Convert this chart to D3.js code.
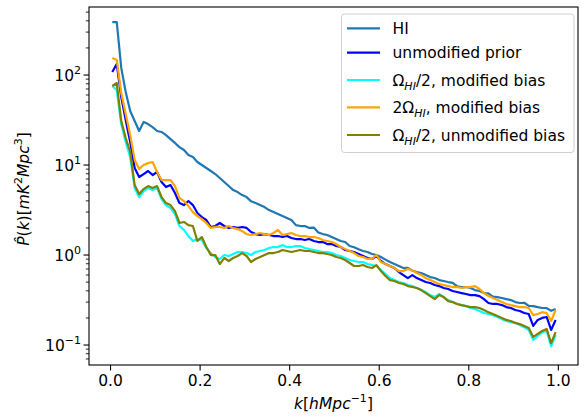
<!DOCTYPE html>
<html>
<head>
<meta charset="utf-8">
<script src="https://cdn.jsdelivr.net/npm/d3@7"></script>
<style>
body { margin: 0; background: #fff; }
svg text { font-family: "DejaVu Sans", sans-serif; fill: #000; }
</style>
</head>
<body>
<svg width="586" height="417"></svg>
<script>
var kValues = [0.005,0.015,0.025,0.035,0.045,0.055,0.065,0.075,0.085,0.095,
    0.105,0.115,0.125,0.135,0.145,0.155,0.165,0.175,0.185,0.195,
    0.205,0.215,0.225,0.235,0.245,0.255,0.265,0.275,0.285,0.295,
    0.305,0.315,0.325,0.335,0.345,0.355,0.365,0.375,0.385,0.395,
    0.405,0.415,0.425,0.435,0.445,0.455,0.465,0.475,0.485,0.495,
    0.505,0.515,0.525,0.535,0.545,0.555,0.565,0.575,0.585,0.595,
    0.605,0.615,0.625,0.635,0.645,0.655,0.665,0.675,0.685,0.695,
    0.705,0.715,0.725,0.735,0.745,0.755,0.765,0.775,0.785,0.795,
    0.805,0.815,0.825,0.835,0.845,0.855,0.865,0.875,0.885,0.895,
    0.905,0.915,0.925,0.935,0.945,0.955,0.965,0.975,0.985,0.995];

var hiPower = [388,388,120,64.7,39.8,30.8,23.9,30.0,28.5,26.4,
    23.9,23.3,21.5,19.4,17.6,15.8,14.7,12.9,12.3,10.8,
    10.0,9.26,8.58,7.94,7.17,6.47,5.84,5.27,5.01,4.64,
    4.40,3.95,3.78,3.59,3.41,3.16,3.00,2.85,2.71,2.58,
    2.45,2.15,2.10,2.10,2.00,2.02,1.78,1.71,1.67,1.585,
    1.506,1.431,1.394,1.259,1.22,1.16,1.108,1.080,1.026,1.0,
    0.95,0.89,0.836,0.794,0.755,0.717,0.72,0.67,0.647,0.631,
    0.599,0.569,0.555,0.527,0.514,0.501,0.49,0.45,0.441,0.441,
    0.430,0.408,0.398,0.378,0.375,0.345,0.341,0.333,0.324,0.316,
    0.300,0.293,0.295,0.272,0.271,0.264,0.258,0.257,0.240,0.251];

var priorPower = [108,132.6,56.9,31.6,18.0,9.26,7.36,7.94,8.58,7.74,
    8.36,6.47,5.69,5.99,4.89,3.78,3.59,3.98,3.59,2.93,
    2.64,2.45,2.05,2.10,2.27,2.10,2.00,2.05,2.00,2.05,
    2.00,1.80,1.71,1.67,1.71,1.67,1.626,1.626,1.585,1.626,
    1.545,1.506,1.506,1.468,1.506,1.431,1.394,1.394,1.325,1.325,
    1.259,1.227,1.137,1.108,1.080,1.026,0.975,0.926,0.903,0.975,
    0.858,0.794,0.755,0.717,0.647,0.599,0.555,0.599,0.555,0.527,
    0.501,0.489,0.464,0.452,0.430,0.419,0.398,0.388,0.378,0.369,
    0.359,0.359,0.350,0.324,0.293,0.286,0.286,0.278,0.264,0.258,
    0.245,0.239,0.227,0.221,0.163,0.190,0.200,0.205,0.147,0.190];

var halfOmegaModPower = [75.5,68.1,28.5,18.0,12.27,5.55,4.41,5.14,5.55,5.27,
    5.55,4.19,3.59,3.33,2.85,2.10,1.90,1.626,1.431,1.506,
    1.468,1.196,1.052,0.950,0.903,1.0,0.975,1.026,1.080,1.080,
    1.052,1.0,1.080,1.108,1.137,1.196,1.227,1.227,1.29,1.227,
    1.227,1.259,1.259,1.196,1.166,1.137,1.108,1.080,1.080,1.052,
    1.0,0.975,0.926,0.880,0.858,0.836,0.836,0.794,0.774,0.755,
    0.681,0.615,0.555,0.527,0.501,0.489,0.464,0.452,0.430,0.408,
    0.388,0.359,0.341,0.369,0.341,0.316,0.300,0.286,0.278,0.271,
    0.258,0.251,0.239,0.227,0.221,0.215,0.205,0.194,0.185,0.180,
    0.176,0.167,0.158,0.147,0.114,0.126,0.139,0.143,0.0975,0.129];

var doubleOmegaModPower = [154.5,147,63.1,36.9,21.5,11.4,9.03,10.0,10.5,10.8,
    8.36,6.81,6.81,6.81,5.84,4.30,3.98,3.50,3.00,2.71,
    2.51,2.27,2.00,2.05,2.05,2.00,2.10,2.00,1.94,1.848,
    1.71,1.67,1.71,1.756,1.71,1.67,1.756,1.90,1.67,1.71,
    1.756,1.67,1.626,1.626,1.585,1.585,1.545,1.468,1.431,1.394,
    1.325,1.227,1.166,1.108,1.052,0.975,0.950,0.903,0.903,1.0,
    0.836,0.794,0.755,0.717,0.664,0.664,0.699,0.681,0.631,0.599,
    0.555,0.527,0.501,0.476,0.464,0.452,0.441,0.441,0.430,0.441,
    0.441,0.452,0.419,0.378,0.350,0.333,0.316,0.300,0.286,0.278,
    0.271,0.264,0.264,0.258,0.215,0.221,0.232,0.227,0.185,0.245];

var halfOmegaUnmodPower = [75.5,81.5,30.8,19.95,13.95,5.99,4.76,5.41,5.84,5.55,
    5.84,4.41,3.78,3.59,3.08,2.27,2.33,2.15,2.10,1.431,
    1.585,1.227,1.0,1.0,0.794,0.926,0.858,0.926,0.975,1.052,
    0.975,0.836,0.903,0.950,1.0,1.052,1.052,1.080,1.137,1.108,
    1.080,1.108,1.137,1.108,1.108,1.080,1.052,1.052,1.026,1.0,
    0.950,0.926,0.880,0.815,0.755,0.755,0.774,0.736,0.717,0.774,
    0.664,0.584,0.527,0.514,0.489,0.476,0.452,0.441,0.430,0.408,
    0.378,0.350,0.324,0.359,0.341,0.308,0.300,0.286,0.278,0.271,
    0.264,0.264,0.258,0.245,0.232,0.221,0.210,0.200,0.190,0.185,
    0.176,0.171,0.163,0.155,0.123,0.133,0.143,0.151,0.105,0.139];

var xTicks = [0.0, 0.2, 0.4, 0.6, 0.8, 1.0];
var yTickExponents = [-1, 0, 1, 2];

var series = [
    {values: hiPower, color: "#1f77b4",
     label: [{t: "HI"}]},
    {values: priorPower, color: "#0000ff",
     label: [{t: "unmodified prior"}]},
    {values: halfOmegaModPower, color: "#00ffff",
     label: [{t: "Ω"}, {t: "HI", italic: true, sub: true}, {t: "/2, modified bias"}]},
    {values: doubleOmegaModPower, color: "#ffa500",
     label: [{t: "2Ω"}, {t: "HI", italic: true, sub: true}, {t: ", modified bias"}]},
    {values: halfOmegaUnmodPower, color: "#808000",
     label: [{t: "Ω"}, {t: "HI", italic: true, sub: true}, {t: "/2, unmodified bias"}]}
];

var plotLeft = 89, plotRight = 578, plotTop = 7, plotBottom = 365;

var x = d3.scaleLinear().domain([-0.047, 1.045]).range([plotLeft, plotRight]);
var y = d3.scaleLog().domain([0.06, 570]).range([plotBottom, plotTop]);

var svg = d3.select("svg");

// writes mathtext-like pieces into a text node
function richText(sel, parts, size) {
    var shift = 0;
    parts.forEach(function(p) {
        var target = p.sub ? 4 : (p.sup ? -7 : 0);
        sel.append("tspan")
            .attr("dy", target - shift)
            .style("font-size", (p.sub || p.sup) ? "11px" : size + "px")
            .style("font-style", p.italic ? "italic" : "normal")
            .text(p.t);
        shift = target;
    });
}

var line = d3.line()
    .x(function(d, i) { return x(kValues[i]); })
    .y(function(d) { return y(d); });

svg.append("defs").append("clipPath").attr("id", "plotclip")
    .append("rect").attr("x", plotLeft).attr("y", plotTop)
    .attr("width", plotRight - plotLeft).attr("height", plotBottom - plotTop);

var plot = svg.append("g").attr("clip-path", "url(#plotclip)");

series.forEach(function(s) {
    plot.append("path")
        .attr("fill", "none")
        .attr("stroke", s.color)
        .attr("stroke-width", 2.2)
        .attr("stroke-linejoin", "round")
        .attr("d", line(s.values));
});

// x axis
var xAxis = d3.axisBottom(x)
    .tickValues(xTicks)
    .tickSizeInner(5.5)
    .tickSizeOuter(0)
    .tickPadding(4.5)
    .tickFormat(d3.format(".1f"));

var gx = svg.append("g")
    .attr("transform", "translate(0," + plotBottom + ")")
    .call(xAxis);
gx.select(".domain").remove();
gx.selectAll("line").attr("stroke", "#000").attr("stroke-width", 1.1);
gx.selectAll("text")
    .style("font-family", "DejaVu Sans")
    .style("font-size", "15.5px")
    .attr("fill", "#000");

// y axis, log with minor ticks
var minorTicks = [];
[-2, -1, 0, 1, 2].forEach(function(e) {
    for (var m = 2; m <= 9; m++) {
        var v = m * Math.pow(10, e);
        if (v > 0.06 && v < 570) minorTicks.push(v);
    }
});

var gy = svg.append("g");
gy.selectAll("line.minor").data(minorTicks).enter().append("line")
    .attr("class", "minor")
    .attr("x1", plotLeft - 3.2).attr("x2", plotLeft)
    .attr("y1", function(d) { return y(d); })
    .attr("y2", function(d) { return y(d); })
    .attr("stroke", "#000").attr("stroke-width", 0.85);

gy.selectAll("line.major").data(yTickExponents).enter().append("line")
    .attr("class", "major")
    .attr("x1", plotLeft - 5.5).attr("x2", plotLeft)
    .attr("y1", function(d) { return y(Math.pow(10, d)); })
    .attr("y2", function(d) { return y(Math.pow(10, d)); })
    .attr("stroke", "#000").attr("stroke-width", 1.1);

gy.selectAll("text.ylab").data(yTickExponents).enter().append("text")
    .attr("class", "ylab")
    .attr("x", 81)
    .attr("y", function(d) { return y(Math.pow(10, d)) + 6; })
    .attr("text-anchor", "end")
    .each(function(d) {
        richText(d3.select(this),
            [{t: "10"}, {t: d < 0 ? "−" + (-d) : String(d), sup: true}], 15.5);
    });

// frame
svg.append("rect")
    .attr("x", plotLeft).attr("y", plotTop)
    .attr("width", plotRight - plotLeft).attr("height", plotBottom - plotTop)
    .attr("fill", "none").attr("stroke", "#000").attr("stroke-width", 1.1);

// axis titles
var xt = svg.append("text")
    .attr("x", (plotLeft + plotRight) / 2).attr("y", 409)
    .attr("text-anchor", "middle");
richText(xt, [{t: "k", italic: true}, {t: "["}, {t: "hMpc", italic: true},
    {t: "−1", sup: true}, {t: "]"}], 15.5);

var yt = svg.append("text")
    .attr("transform", "translate(29," + ((plotTop + plotBottom) / 2 + 3) + ") rotate(-90)")
    .attr("text-anchor", "middle");
richText(yt, [{t: "P\u0302", italic: true}, {t: "("}, {t: "k", italic: true}, {t: ")["},
    {t: "mK", italic: true}, {t: "2", sup: true}, {t: "Mpc", italic: true},
    {t: "3", sup: true}, {t: "]"}], 15.5);

// legend
var legendRows = [28.3, 52.7, 80, 107.3, 135];
var legend = svg.append("g");
legend.append("rect")
    .attr("x", 341.5).attr("y", 14)
    .attr("width", 232.5).attr("height", 138.5)
    .attr("rx", 3)
    .attr("fill", "#fff").attr("fill-opacity", 0.8)
    .attr("stroke", "#d0d0d0").attr("stroke-width", 1);

series.forEach(function(s, i) {
    var ly = legendRows[i];
    legend.append("line")
        .attr("x1", 347).attr("x2", 380)
        .attr("y1", ly).attr("y2", ly)
        .attr("stroke", s.color).attr("stroke-width", 2.2);
    var t = legend.append("text").attr("x", 392.5).attr("y", ly + 5.5);
    richText(t, s.label, 15.5);
});
</script>
</body>
</html>
